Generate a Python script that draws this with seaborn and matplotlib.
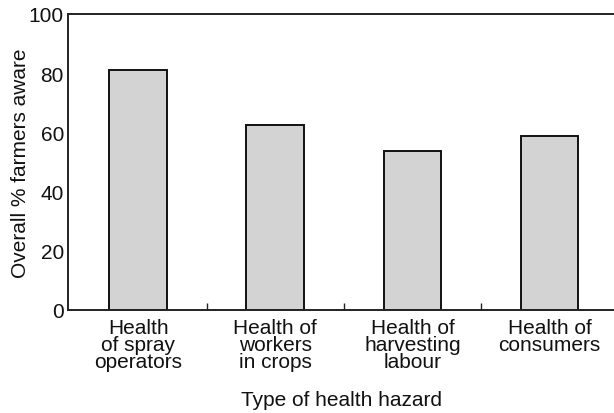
import matplotlib
matplotlib.use("Agg")
import matplotlib.pyplot as plt
import seaborn as sns
import pandas as pd
from matplotlib.ticker import FixedLocator

categories = ["Health\nof spray\noperators", "Health of\nworkers\nin crops",
              "Health of\nharvesting\nlabour", "Health of\nconsumers"]
values = [81, 62.5, 53.7, 58.8]
yticks = [0, 20, 40, 60, 80, 100]

sns.set_theme(style="white")
plt.rcParams['font.family'] = ['Liberation Sans', 'DejaVu Sans']

df = pd.DataFrame({"cat": categories, "val": values})

fig = plt.figure(figsize=(6.14, 4.14), dpi=100)
ax = fig.add_axes([0.111, 0.249, 0.889, 0.715])
sns.barplot(data=df, x="cat", y="val", ax=ax, color="#d3d3d3", saturation=1,
            edgecolor="#111111", linewidth=1.4, width=0.42)

fs = 15
ax.set_xlim(-0.51, 3.47)
ax.set_ylim(0, 100)
ax.set_yticks(yticks)
ax.set_yticklabels([str(t) for t in yticks], fontsize=fs, color="#111111")
ax.tick_params(axis="x", which="major", length=0, labelsize=fs, pad=6, labelcolor="#111111")
ax.tick_params(axis="y", length=0, pad=3)
ax.xaxis.set_minor_locator(FixedLocator([0.5, 1.5, 2.5]))
ax.tick_params(axis="x", which="minor", direction="in", length=5, width=1, color="#222222", bottom=True)
for lab in ax.get_xticklabels():
    lab.set_linespacing(0.85)

ax.set_xlabel("Type of health hazard", fontsize=fs, color="#111111", labelpad=14)
ax.set_ylabel("Overall % farmers aware", fontsize=fs, color="#111111", labelpad=-1)

for s in ["left", "bottom", "top"]:
    ax.spines[s].set_visible(True)
    ax.spines[s].set_color("#222222")
    ax.spines[s].set_linewidth(1.4)
ax.spines["right"].set_visible(False)

fig.savefig("out.png", dpi=100)
